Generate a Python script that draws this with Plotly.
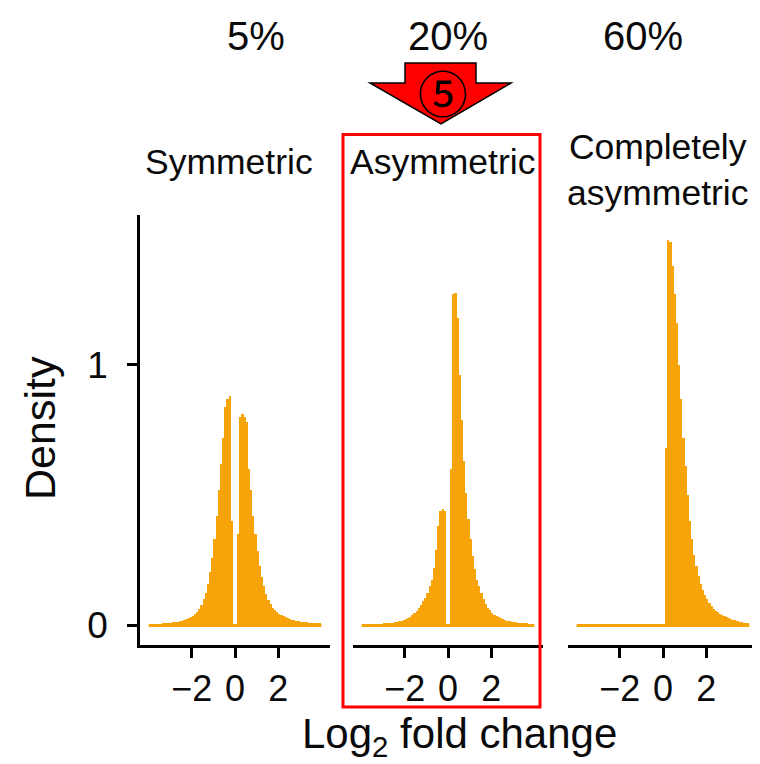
import plotly.graph_objects as go

# ---------------- data ----------------
bin_width = 0.1
bin_centers = [round(-3.95 + 0.1 * i, 2) for i in range(80)]

symmetric_density = [
    0.005, 0.005, 0.006, 0.006, 0.007, 0.007, 0.008, 0.008, 0.009, 0.010,
    0.011, 0.012, 0.014, 0.015, 0.017, 0.019, 0.022, 0.025, 0.028, 0.032,
    0.038, 0.045, 0.053, 0.065, 0.080, 0.100, 0.125, 0.160, 0.205, 0.260,
    0.330, 0.420, 0.520, 0.620, 0.720, 0.840, 0.870, 0.880, 0.400, 0.000,
    0.000, 0.350, 0.800, 0.810, 0.800, 0.780, 0.600, 0.520, 0.420, 0.350,
    0.285, 0.230, 0.185, 0.150, 0.120, 0.098, 0.082, 0.068, 0.058, 0.050,
    0.044, 0.039, 0.035, 0.031, 0.028, 0.025, 0.022, 0.020, 0.018, 0.016,
    0.015, 0.014, 0.013, 0.012, 0.011, 0.010, 0.010, 0.009, 0.009, 0.008,
]

asymmetric_density = [
    0.004, 0.004, 0.004, 0.005, 0.005, 0.005, 0.006, 0.006, 0.007, 0.007,
    0.008, 0.008, 0.009, 0.010, 0.011, 0.013, 0.015, 0.017, 0.019, 0.022,
    0.025, 0.029, 0.034, 0.040, 0.048, 0.057, 0.068, 0.080, 0.092, 0.105,
    0.125, 0.150, 0.175, 0.220, 0.290, 0.380, 0.440, 0.445, 0.440, 0.000,
    0.000, 0.600, 1.270, 1.275, 1.180, 0.960, 0.790, 0.630, 0.510, 0.410,
    0.330, 0.265, 0.215, 0.175, 0.150, 0.125, 0.100, 0.082, 0.068, 0.058,
    0.049, 0.042, 0.036, 0.031, 0.027, 0.024, 0.021, 0.019, 0.017, 0.015,
    0.013, 0.012, 0.011, 0.010, 0.009, 0.008, 0.008, 0.007, 0.007, 0.006,
]

completely_asymmetric_density = [0.0] * 40 + [
    0.000, 0.680, 1.480, 1.470, 1.380, 1.270, 1.160, 1.000, 0.870, 0.720,
    0.610, 0.500, 0.400, 0.330, 0.270, 0.230, 0.190, 0.160, 0.135, 0.115,
    0.100, 0.088, 0.075, 0.065, 0.057, 0.050, 0.045, 0.040, 0.035, 0.031,
    0.028, 0.025, 0.022, 0.020, 0.018, 0.015, 0.013, 0.011, 0.009, 0.008,
]

panel_titles = ["Symmetric", "Asymmetric", "Completely<br>asymmetric"]
percent_labels = ["5%", "20%", "60%"]
data_extent = [-4, 4]
x_tick_vals = [-2, 0, 2]
x_tick_text = ["\u22122", "0", "2"]
y_tick_vals = [0, 1]
y_tick_text = ["0", "1"]

# ---------------- layout helpers ----------------
OFF = 8                      # page body margin
W, H = 760 - OFF, 764 - OFF
ORANGE = "#F7A30A"
FONT = "Liberation Sans, Arial, Helvetica, sans-serif"
TXT = "#0a0a0a"


def px(x):
    return (x - OFF) / W


def py(y):
    return 1 - (y - OFF) / H


panel_px = [(140, 330), (353, 543), (568, 758)]
y_dom = [py(645), py(215)]

fig = go.Figure()
series = [symmetric_density, asymmetric_density, completely_asymmetric_density]
for i, vals in enumerate(series):
    xa = "x" if i == 0 else f"x{i+1}"
    fig.add_trace(go.Bar(
        x=bin_centers, y=vals, width=bin_width,
        marker=dict(color=ORANGE, line=dict(width=0)),
        xaxis=xa, yaxis="y", showlegend=False, hoverinfo="skip",
    ))
    fig.add_trace(go.Scatter(
        x=data_extent, y=[0, 0], mode="lines",
        line=dict(color=ORANGE, width=3),
        xaxis=xa, yaxis="y", showlegend=False, hoverinfo="skip",
    ))

axis_common = dict(
    range=[-4.4, 4.4], showgrid=False, zeroline=False,
    showline=True, linecolor="black", linewidth=2.5,
    ticks="outside", ticklen=10, tickwidth=2.5, tickcolor="black",
    tickvals=x_tick_vals, ticktext=x_tick_text,
    tickfont=dict(family=FONT, size=36, color=TXT),
    anchor="y", fixedrange=True,
)
layout = dict(
    width=W, height=H,
    margin=dict(l=0, r=0, t=0, b=0),
    paper_bgcolor="white", plot_bgcolor="white",
    bargap=0, showlegend=False,
    font=dict(family=FONT, color=TXT),
)
for i, (a, b) in enumerate(panel_px):
    key = "xaxis" if i == 0 else f"xaxis{i+1}"
    layout[key] = dict(axis_common, domain=[px(a), px(b)])

layout["yaxis"] = dict(
    domain=y_dom, range=[-0.075, 1.575], showgrid=False, zeroline=False,
    showline=True, linecolor="black", linewidth=2.5,
    ticks="outside", ticklen=10, tickwidth=2.5, tickcolor="black",
    tickvals=y_tick_vals, ticktext=y_tick_text,
    tickfont=dict(family=FONT, size=37, color=TXT),
    ticklabelstandoff=12,
    anchor="x", fixedrange=True,
)
fig.update_layout(**layout)

annotations = []
# percent labels
for cx, t in zip([256, 448, 643], percent_labels):
    annotations.append(dict(x=px(cx), y=py(36), xref="paper", yref="paper",
                            text=t, showarrow=False, xanchor="center", yanchor="middle",
                            font=dict(family=FONT, size=40, color=TXT)))
# panel titles
title_pos = [(229, 162), (442, 162), (657, 170)]
for (cx, cy), t in zip(title_pos, panel_titles):
    annotations.append(dict(x=px(cx), y=py(cy), xref="paper", yref="paper",
                            text=t, showarrow=False, xanchor="center", yanchor="middle",
                            font=dict(family=FONT, size=35.5, color=TXT)))
# axis titles
annotations.append(dict(x=px(40), y=py(428), xref="paper", yref="paper",
                        text="Density", textangle=-90, showarrow=False,
                        xanchor="center", yanchor="middle",
                        font=dict(family=FONT, size=43, color=TXT)))
annotations.append(dict(x=px(459), y=py(736), xref="paper", yref="paper",
                        text="Log<sub>2</sub> fold change", showarrow=False,
                        xanchor="center", yanchor="middle",
                        font=dict(family=FONT, size=42, color=TXT)))
# circled number on arrow
annotations.append(dict(x=px(443), y=py(91), xref="paper", yref="paper",
                        text="\u2464", showarrow=False, xanchor="center", yanchor="middle",
                        font=dict(family="Noto Sans CJK JP", size=50, color="black")))
fig.update_layout(annotations=annotations)

# red arrow and red highlight rectangle
arrow_pts = [(405, 63), (476, 63), (476, 83), (511, 83), (441, 124), (370, 83), (405, 83)]
path = "M " + " L ".join(f"{px(x):.5f},{py(y):.5f}" for x, y in arrow_pts) + " Z"
fig.add_shape(type="path", path=path, xref="paper", yref="paper",
              fillcolor="#FF0000", line=dict(color="black", width=1.5), layer="below")
fig.add_shape(type="rect", x0=px(343), x1=px(540), y0=py(707), y1=py(134.5),
              xref="paper", yref="paper", line=dict(color="#FF0000", width=3))

fig.write_html("out.html")
